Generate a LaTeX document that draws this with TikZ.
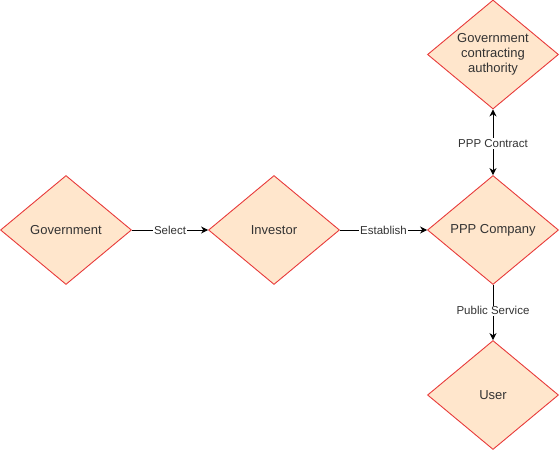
\documentclass[tikz,border=0pt]{standalone}
\usepackage{fontspec}
\setmainfont{Liberation Sans}
\usetikzlibrary{shapes.geometric,arrows.meta}
\definecolor{dfill}{HTML}{FFE6CC}
\definecolor{dline}{HTML}{E83A3A}
\definecolor{dtext}{HTML}{333333}
\begin{document}
\begin{tikzpicture}[x=1pt,y=-1pt,
  dia/.style={diamond,draw=dline,fill=dfill,line width=0.9pt,aspect=1.2,inner sep=0pt,
    minimum width=131pt,minimum height=109pt,font=\fontsize{13}{15}\selectfont,text=dtext,align=center},
  conn/.style={line width=0.9pt,-{Stealth[length=7pt,width=7pt]}},
  lab/.style={fill=white,inner sep=1pt,font=\fontsize{11.5}{13}\selectfont,text=dtext}]
\useasboundingbox (0,0) rectangle (560,450);
\node[dia] (gov) at (66,230) {Government};
\node[dia] (inv) at (274,230) {Investor};
\node[dia] (ppp) at (493,230) {PPP Company};
\node[dia] (gca) at (493,54.5) {Government\\contracting\\authority};
\node[dia] (user) at (493,395) {User};
\draw[conn] (gov) -- node[lab]{Select} (inv);
\draw[conn] (inv) -- node[lab]{Establish} (ppp);
\draw[conn,{Stealth[length=7pt,width=7pt]}-{Stealth[length=7pt,width=7pt]}] (gca) -- node[lab,pos=0.52]{PPP Contract} (ppp);
\draw[conn] (ppp) -- node[lab,pos=0.47]{Public Service} (user);
\end{tikzpicture}
\end{document}
